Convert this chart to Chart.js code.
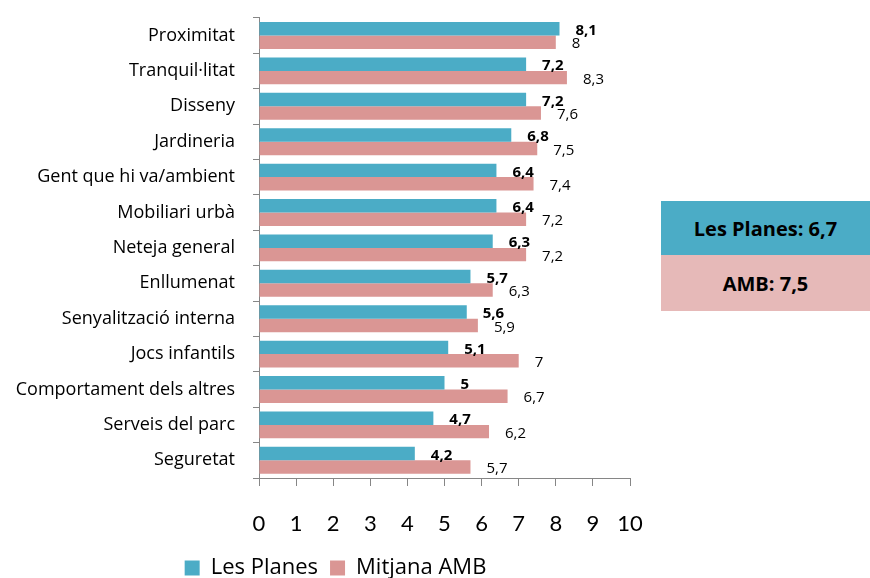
<!DOCTYPE html>
<html>
<head>
<meta charset="utf-8">
<script src="https://cdn.jsdelivr.net/npm/chart.js@4"></script>
<style>
  body { margin: 0; background: #fff; font-family: "Open Sans", sans-serif; overflow: hidden; }
  #wrap { position: relative; width: 870px; height: 578px; overflow: hidden; }
  #chartBox { position: absolute; left: 0; top: -11px; width: 676px; height: 600px; }
  .box { position: absolute; left: 661px; width: 209px; font-weight: bold; font-size: 20px;
         display: flex; align-items: center; justify-content: center; color: #000; }
  #boxA { top: 201px; height: 54px; background: #4bacc6; }
  #boxB { top: 255px; height: 56px; background: #e6b9b8; }
</style>
</head>
<body>
<div id="wrap">
  <div id="chartBox"><canvas id="parks"></canvas></div>
  <div class="box" id="boxA">Les Planes: 6,7</div>
  <div class="box" id="boxB">AMB: 7,5</div>
</div>
<script>
var categories = ["Proximitat", "Tranquil·litat", "Disseny", "Jardineria", "Gent que hi va/ambient",
  "Mobiliari urbà", "Neteja general", "Enllumenat", "Senyalització interna", "Jocs infantils",
  "Comportament dels altres", "Serveis del parc", "Seguretat"];
var lesPlanes = [8.1, 7.2, 7.2, 6.8, 6.4, 6.4, 6.3, 5.7, 5.6, 5.1, 5, 4.7, 4.2];
var mitjanaAMB = [8, 8.3, 7.6, 7.5, 7.4, 7.2, 7.2, 6.3, 5.9, 7, 6.7, 6.2, 5.7];
var xTicks = [0, 1, 2, 3, 4, 5, 6, 7, 8, 9, 10];

function fmt(v) { return String(v).replace('.', ','); }

// value labels next to each bar end
const barLabels = {
  id: 'barLabels',
  beforeDraw(chart) {
    // nudge the legend a bit to the right, like the original
    chart.legend.left = 41;
  },
  afterDatasetsDraw(chart) {
    const ctx = chart.ctx;
    ctx.save();
    ctx.textAlign = 'left';
    ctx.textBaseline = 'middle';
    ctx.fillStyle = '#000';
    chart.data.datasets.forEach((ds, i) => {
      const meta = chart.getDatasetMeta(i);
      ctx.font = (i === 0 ? 'bold ' : '') + '15px "Open Sans"';
      meta.data.forEach((bar, j) => {
        ctx.fillText(fmt(ds.data[j]), bar.x + 16, bar.y + 2);
      });
    });
    ctx.restore();
  }
};

new Chart("parks", {
  type: "bar",
  data: {
    labels: categories,
    datasets: [{
      label: "Les Planes",
      data: lesPlanes,
      backgroundColor: "#4bacc6",
      barPercentage: 1,
      categoryPercentage: 0.76
    }, {
      label: "Mitjana AMB",
      data: mitjanaAMB,
      backgroundColor: "#da9694",
      barPercentage: 1,
      categoryPercentage: 0.76
    }]
  },
  options: {
    indexAxis: 'y',
    responsive: true,
    maintainAspectRatio: false,
    animation: false,
    layout: { padding: { top: 6, right: 46, left: 0, bottom: 0 } },
    plugins: {
      legend: {
        position: 'bottom',
        labels: { boxWidth: 15, boxHeight: 15, color: '#000', font: { family: 'Open Sans', size: 22 }, padding: 12 }
      },
      tooltip: { enabled: false }
    },
    scales: {
      x: {
        min: 0, max: 10,
        afterBuildTicks(scale) { scale.ticks = xTicks.map(v => ({ value: v })); },
        afterFit(scale) { scale.height = 67; },
        grid: { drawOnChartArea: false, tickLength: 8, color: '#868686' },
        border: { color: '#868686' },
        ticks: { color: '#000', font: { family: 'Lato', size: 22 }, padding: 25, maxRotation: 0 }
      },
      y: {
        afterFit(scale) { scale.width = 259; },
        grid: { drawOnChartArea: false, tickLength: 6, color: '#868686', offset: true },
        border: { color: '#868686' },
        ticks: { color: '#000', font: { family: 'Open Sans', size: 18 }, padding: 18 }
      }
    }
  },
  plugins: [barLabels]
});
</script>
</body>
</html>
